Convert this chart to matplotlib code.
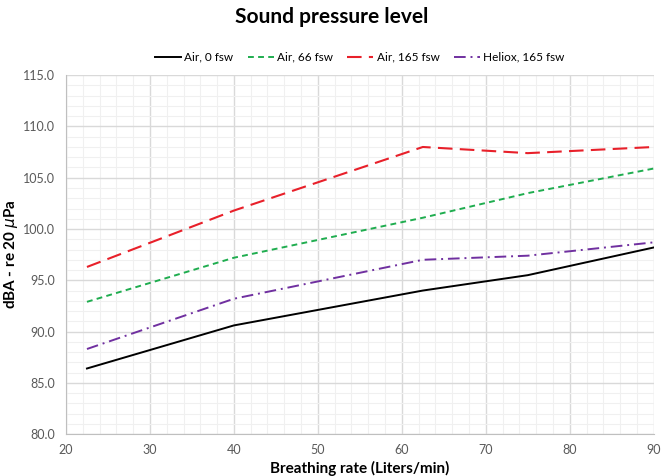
import matplotlib.pyplot as plt
from matplotlib.ticker import MultipleLocator, FormatStrFormatter

breathing_rate = [22.5, 40, 62.5, 75, 90]
air_0 = [86.4, 90.6, 94.0, 95.5, 98.2]
air_66 = [92.9, 97.2, 101.1, 103.5, 105.9]
air_165 = [96.3, 101.8, 108.0, 107.4, 108.0]
heliox_165 = [88.3, 93.2, 97.0, 97.4, 98.7]

plt.rcParams["font.family"] = ["Lato", "DejaVu Sans"]

fig = plt.figure(figsize=(6.63, 4.76), dpi=100)
ax = fig.add_axes([0.0995, 0.088, 0.8865, 0.754])

ax.plot(breathing_rate, air_0, color="black", lw=1.4, label="Air, 0 fsw")
ax.plot(breathing_rate, air_66, color="#1fad4f", lw=1.4, dashes=(3, 2.2), label="Air, 66 fsw")
ax.plot(breathing_rate, air_165, color="#e8202a", lw=1.5, dashes=(7, 3.5), label="Air, 165 fsw")
ax.plot(breathing_rate, heliox_165, color="#7030a0", lw=1.4, dashes=(6, 2.5, 1, 2.5), label="Heliox, 165 fsw")

ax.set_xlim(20, 90)
ax.set_ylim(80, 115)
ax.xaxis.set_major_locator(MultipleLocator(10))
ax.xaxis.set_minor_locator(MultipleLocator(2))
ax.yaxis.set_major_locator(MultipleLocator(5))
ax.yaxis.set_minor_locator(MultipleLocator(1))
ax.yaxis.set_major_formatter(FormatStrFormatter("%.1f"))
ax.grid(which="major", color="#d9d9d9", lw=1.0)
ax.grid(which="minor", color="#f0f0f0", lw=0.8)
ax.set_axisbelow(True)

for side in ["top", "right"]:
    ax.spines[side].set_visible(False)
for side in ["left", "bottom"]:
    ax.spines[side].set_color("#bfbfbf")
ax.tick_params(which="both", length=0, labelsize=9, labelcolor="#595959")
ax.tick_params(axis="y", pad=8)
ax.tick_params(axis="x", pad=7)

ax.set_xlabel("Breathing rate (Liters/min)", fontsize=11, fontweight="bold", labelpad=4)
ax.set_ylabel(r"dBA - re 20 $\mu$Pa", fontsize=11, fontweight="bold", labelpad=2)

fig.suptitle("Sound pressure level", fontsize=15, fontweight="bold", y=0.985)
ax.legend(loc="lower center", bbox_to_anchor=(0.5, 1.005), ncol=4, frameon=False,
          fontsize=8.5, handlelength=2.2, columnspacing=1.2, handletextpad=0.3)

fig.savefig("out.png", dpi=100)
